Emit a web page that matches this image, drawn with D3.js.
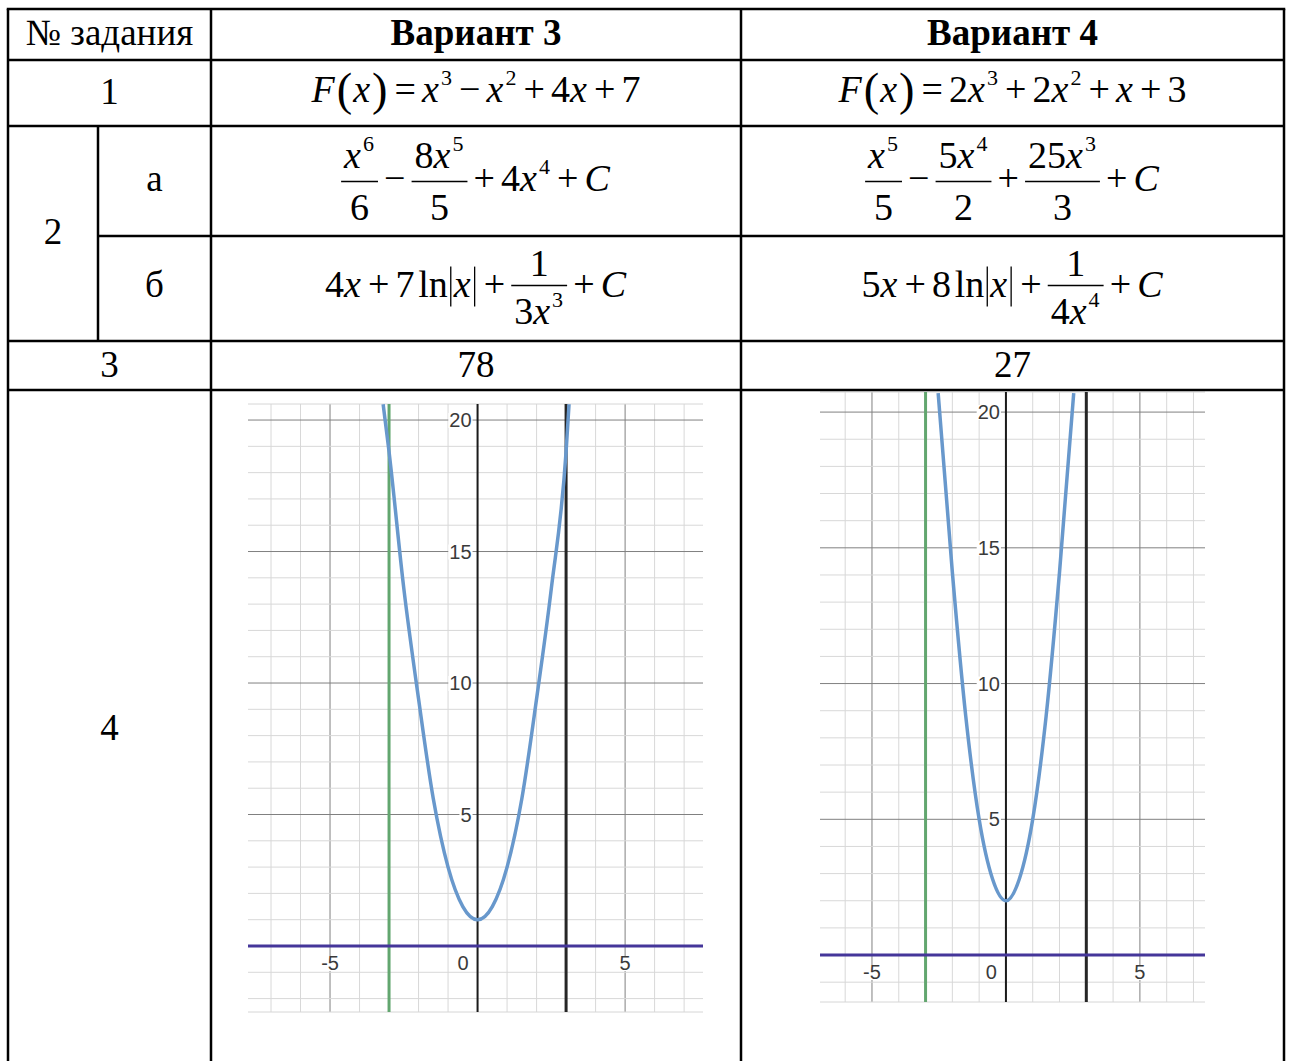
<!doctype html>
<html lang="ru">
<head>
<meta charset="utf-8">
<title>Варианты 3 и 4</title>
<script src="https://cdnjs.cloudflare.com/ajax/libs/d3/7.8.5/d3.min.js"></script>
<style>
  body { margin: 0; background: #fff; }
  svg text { font-family: "Liberation Serif", "Times New Roman", serif; fill: #000; }
  svg text.tick { font-family: "Liberation Sans", Arial, sans-serif; fill: #3a3a3a; }
</style>
</head>
<body>
<svg id="sheet" width="1291" height="1061"></svg>
<script>
  //
  // Data
  //

  var headers = ['№ задания', 'Вариант 3', 'Вариант 4']
  var taskLabels = ['1', '2', 'а', 'б', '3', '4']
  // formulas: {a/b} fraction, ^n superscript, | abs bar
  var row1 = ['F(x)=x^3−x^2+4x+7', 'F(x)=2x^3+2x^2+x+3']
  var row2a = ['{x^6/6}−{8x^5/5}+4x^4+C', '{x^5/5}−{5x^4/2}+{25x^3/3}+C']
  var row2b = ['4x+7ln|x|+{1/3x^3}+C', '5x+8ln|x|+{1/4x^4}+C']
  var row3 = ['78', '27']

  // task 4 graphs
  var boundsX = [-3, 3]
  var xTicks = [-5, 0, 5]
  var yTicks = [5, 10, 15, 20]
  var curve3X = [-3.2, -3, -2.5, -2, -1.5, -1, -0.5, 0, 0.5, 1, 1.5, 2, 2.5, 3, 3.1]
  var curve3Y = [20.6, 18.8, 13.6, 9.4, 5.6, 3.0, 1.5, 1.0, 1.5, 3.0, 5.6, 9.4, 13.6, 18.8, 20.6]
  var curve4X = [-2.53, -2, -1.5, -1, -0.5, 0, 0.5, 1, 1.5, 2, 2.53]
  var curve4Y = [20.7, 14.1, 8.8, 5.0, 2.8, 2.0, 2.8, 5.0, 8.8, 14.1, 20.7]

  //
  // Setup
  //

  var svg = d3.select('#sheet')
  var textSize = 37
  var mathSize = 38
  var supSize = 22

  var colX = [8, 98, 211, 741, 1284]
  var rowY = [9, 60, 126, 236, 341, 390, 1061]

  //
  // Formula layout
  //

  function tokens(src) {
    var out = [], i = 0
    while (i < src.length) {
      var c = src[i]
      if (c === '{') {
        var j = src.indexOf('}', i)
        var parts = src.slice(i + 1, j).split('/')
        out.push({ type: 'frac', num: parts[0], den: parts[1] })
        i = j + 1
      } else if (c === '^') {
        out.push({ type: 'sup', text: src[i + 1] }); i += 2
      } else if ('xFC'.indexOf(c) >= 0) {
        out.push({ type: 'var', text: c }); i++
      } else if ('=+−'.indexOf(c) >= 0) {
        out.push({ type: 'op', text: c }); i++
      } else if ('()'.indexOf(c) >= 0) {
        out.push({ type: 'paren', text: c }); i++
      } else if (c === '|') {
        out.push({ type: 'bar' }); i++
      } else if (c === 'l' && src[i + 1] === 'n') {
        out.push({ type: 'fn', text: 'ln' }); i += 2
      } else {
        out.push({ type: 'num', text: c }); i++
      }
    }
    return out
  }

  function put(g, text, x, y, size, italic) {
    var el = g.append('text')
      .attr('x', x).attr('y', y)
      .attr('font-size', size)
      .style('font-style', italic ? 'italic' : null)
      .text(text)
    return el.node().getComputedTextLength()
  }

  // draws src starting at x, returns the end x
  function drawMath(g, src, x, base, o) {
    var pad = mathSize * 0.16
    tokens(src).forEach(function (t) {
      if (t.type === 'frac') {
        var numBase = o.bar - (t.num.indexOf('^') >= 0 ? 14 : 10)
        var ng = g.append('g'), dg = g.append('g')
        var nw = drawMath(ng, t.num, 0, numBase, o)
        var dw = drawMath(dg, t.den, 0, o.bar + 38, o)
        var w = Math.max(nw, dw) + 6
        ng.attr('transform', 'translate(' + (x + (w - nw) / 2) + ',0)')
        dg.attr('transform', 'translate(' + (x + (w - dw) / 2) + ',0)')
        g.append('line')
          .attr('x1', x).attr('x2', x + w)
          .attr('y1', o.bar).attr('y2', o.bar)
          .attr('stroke', '#000').attr('stroke-width', 1.6)
        x += w
      } else if (t.type === 'var') {
        x += put(g, t.text, x, base, mathSize, true) + 1
      } else if (t.type === 'num') {
        x += put(g, t.text, x, base, mathSize, false)
      } else if (t.type === 'sup') {
        x += put(g, t.text, x + 1, base - mathSize * 0.44, supSize, false) + 2
      } else if (t.type === 'op') {
        x += pad
        x += put(g, t.text, x, base, mathSize, false) + pad
      } else if (t.type === 'paren') {
        x += 1
        x += put(g, t.text, x, base + 3, mathSize * 1.22, false) + 1
      } else if (t.type === 'bar') {
        x += 3
        g.append('line')
          .attr('x1', x).attr('x2', x)
          .attr('y1', base - mathSize * 0.8).attr('y2', base + mathSize * 0.25)
          .attr('stroke', '#000').attr('stroke-width', 1.3)
        x += 3
      } else if (t.type === 'fn') {
        x += mathSize * 0.1
        x += put(g, t.text, x, base, mathSize, false)
      }
    })
    return x
  }

  function formula(src, cx, base, bar) {
    var g = svg.append('g')
    var w = drawMath(g, src, 0, base, { bar: bar })
    g.attr('transform', 'translate(' + (cx - w / 2) + ',0)')
  }

  function label(text, cx, base, bold) {
    svg.append('text')
      .attr('x', cx).attr('y', base)
      .attr('text-anchor', 'middle')
      .attr('font-size', textSize)
      .attr('font-weight', bold ? 'bold' : null)
      .text(text)
  }

  //
  // Graphs
  //

  function drawGraph(box, dom, cx, cy, xLabelDy) {
    var x = d3.scaleLinear().domain(dom.x).range([box.left, box.right])
    var y = d3.scaleLinear().domain(dom.y).range([box.bottom, box.top])
    var g = svg.append('g')
    var clipId = 'clip' + Math.round(box.left)

    g.append('clipPath').attr('id', clipId)
      .append('rect')
      .attr('x', box.left).attr('y', box.top)
      .attr('width', box.right - box.left).attr('height', box.bottom - box.top)

    g.append('rect')
      .attr('x', box.left).attr('y', box.top - 12)
      .attr('width', box.right - box.left).attr('height', box.bottom - box.top + 12)
      .attr('fill', '#fff')

    var gx = d3.range(Math.ceil(dom.x[0]), dom.x[1], 1)
    var gy = d3.range(Math.ceil(dom.y[0]), dom.y[1], 1)

    g.selectAll('.vx').data(gx).join('line')
      .attr('x1', function (d) { return x(d) }).attr('x2', function (d) { return x(d) })
      .attr('y1', box.top).attr('y2', box.bottom)
      .attr('stroke', function (d) { return d % 5 === 0 ? '#808080' : '#d8d8d8' })
      .attr('stroke-width', 1)
    g.selectAll('.hy').data(gy).join('line')
      .attr('x1', box.left).attr('x2', box.right)
      .attr('y1', function (d) { return y(d) }).attr('y2', function (d) { return y(d) })
      .attr('stroke', function (d) { return d % 5 === 0 ? '#808080' : '#d8d8d8' })
      .attr('stroke-width', 1)

    // picture edges
    g.append('line').attr('x1', box.left).attr('x2', box.right)
      .attr('y1', box.top).attr('y2', box.top).attr('stroke', '#d6d6d6')
    g.append('line').attr('x1', box.left).attr('x2', box.right)
      .attr('y1', box.bottom).attr('y2', box.bottom).attr('stroke', '#d6d6d6')

    // y axis
    g.append('line').attr('x1', x(0)).attr('x2', x(0))
      .attr('y1', box.top).attr('y2', box.bottom)
      .attr('stroke', '#1b1b1b').attr('stroke-width', 2)

    // tick labels
    function tickLabel(text, tx, ty, anchor) {
      var t = g.append('text').attr('class', 'tick')
        .attr('x', tx).attr('y', ty)
        .attr('text-anchor', anchor)
        .attr('font-size', 20)
        .text(text)
      var bb = t.node().getBBox()
      g.insert('rect', function () { return t.node() })
        .attr('x', bb.x - 1).attr('y', bb.y + 4)
        .attr('width', bb.width + 2).attr('height', bb.height - 7)
        .attr('fill', '#fff')
    }
    yTicks.forEach(function (v) {
      tickLabel(String(v), x(0) - 6, y(v) + 7, 'end')
    })
    xTicks.forEach(function (v) {
      if (v === 0) tickLabel('0', x(0) - 9, y(0) + xLabelDy, 'end')
      else tickLabel(String(v), x(v), y(0) + xLabelDy, 'middle')
    })

    // boundaries
    g.append('line').attr('x1', x(boundsX[0])).attr('x2', x(boundsX[0]))
      .attr('y1', box.top).attr('y2', box.bottom)
      .attr('stroke', '#62a66f').attr('stroke-width', 3)
    g.append('line').attr('x1', x(boundsX[1])).attr('x2', x(boundsX[1]))
      .attr('y1', box.top).attr('y2', box.bottom)
      .attr('stroke', '#262626').attr('stroke-width', 3)
    g.append('line').attr('x1', box.left).attr('x2', box.right)
      .attr('y1', y(0)).attr('y2', y(0))
      .attr('stroke', '#45369a').attr('stroke-width', 3)

    var pts = d3.zip(cx, cy)
    g.append('path')
      .datum(pts)
      .attr('clip-path', 'url(#' + clipId + ')')
      .attr('fill', 'none')
      .attr('stroke', '#6898cc')
      .attr('stroke-width', 3.5)
      .attr('d', d3.line()
        .x(function (d) { return x(d[0]) })
        .y(function (d) { return y(d[1]) })
        .curve(d3.curveMonotoneX))
  }

  //
  // Draw
  //

  svg.append('rect').attr('width', 1291).attr('height', 1061).attr('fill', '#fff')

  // header
  label(headers[0], (colX[0] + colX[2]) / 2, 45)
  label(headers[1], (colX[2] + colX[3]) / 2, 45, true)
  label(headers[2], (colX[3] + colX[4]) / 2, 45, true)

  // task column
  label(taskLabels[0], (colX[0] + colX[2]) / 2, 104)
  label(taskLabels[1], (colX[0] + colX[1]) / 2, 244)
  label(taskLabels[2], (colX[1] + colX[2]) / 2, 191)
  label(taskLabels[3], (colX[1] + colX[2]) / 2, 297)
  label(taskLabels[4], (colX[0] + colX[2]) / 2, 377)
  label(taskLabels[5], (colX[0] + colX[2]) / 2, 740)

  var mid3 = (colX[2] + colX[3]) / 2
  var mid4 = (colX[3] + colX[4]) / 2
  formula(row1[0], mid3, 102)
  formula(row1[1], mid4, 102)
  formula(row2a[0], mid3, 191, 181.5)
  formula(row2a[1], mid4, 191, 181.5)
  formula(row2b[0], mid3, 297, 285.5)
  formula(row2b[1], mid4, 297, 285.5)
  label(row3[0], mid3, 377)
  label(row3[1], mid4, 377)

  // graphs
  drawGraph({ left: 248, right: 703, top: 404, bottom: 1012 },
    { x: [-7.78, 7.64], y: [-2.51, 20.61] }, curve3X, curve3Y, 24)
  drawGraph({ left: 820, right: 1205, top: 392, bottom: 1002 },
    { x: [-6.94, 7.43], y: [-1.73, 20.74] }, curve4X, curve4Y, 24)

  // table rules
  var rules = svg.append('g').attr('stroke', '#000').attr('stroke-width', 2.5)
  function rule(x1, y1, x2, y2) {
    rules.append('line').attr('x1', x1).attr('y1', y1).attr('x2', x2).attr('y2', y2)
  }
  rule(colX[0] - 1.25, rowY[0], colX[4] + 1.25, rowY[0])
  rule(colX[0], rowY[1], colX[4], rowY[1])
  rule(colX[0], rowY[2], colX[4], rowY[2])
  rule(colX[1], rowY[3], colX[4], rowY[3])
  rule(colX[0], rowY[4], colX[4], rowY[4])
  rule(colX[0], rowY[5], colX[4], rowY[5])
  rule(colX[0], rowY[0], colX[0], rowY[6])
  rule(colX[1], rowY[2], colX[1], rowY[4])
  rule(colX[2], rowY[0], colX[2], rowY[6])
  rule(colX[3], rowY[0], colX[3], rowY[6])
  rule(colX[4], rowY[0], colX[4], rowY[6])
</script>
</body>
</html>
